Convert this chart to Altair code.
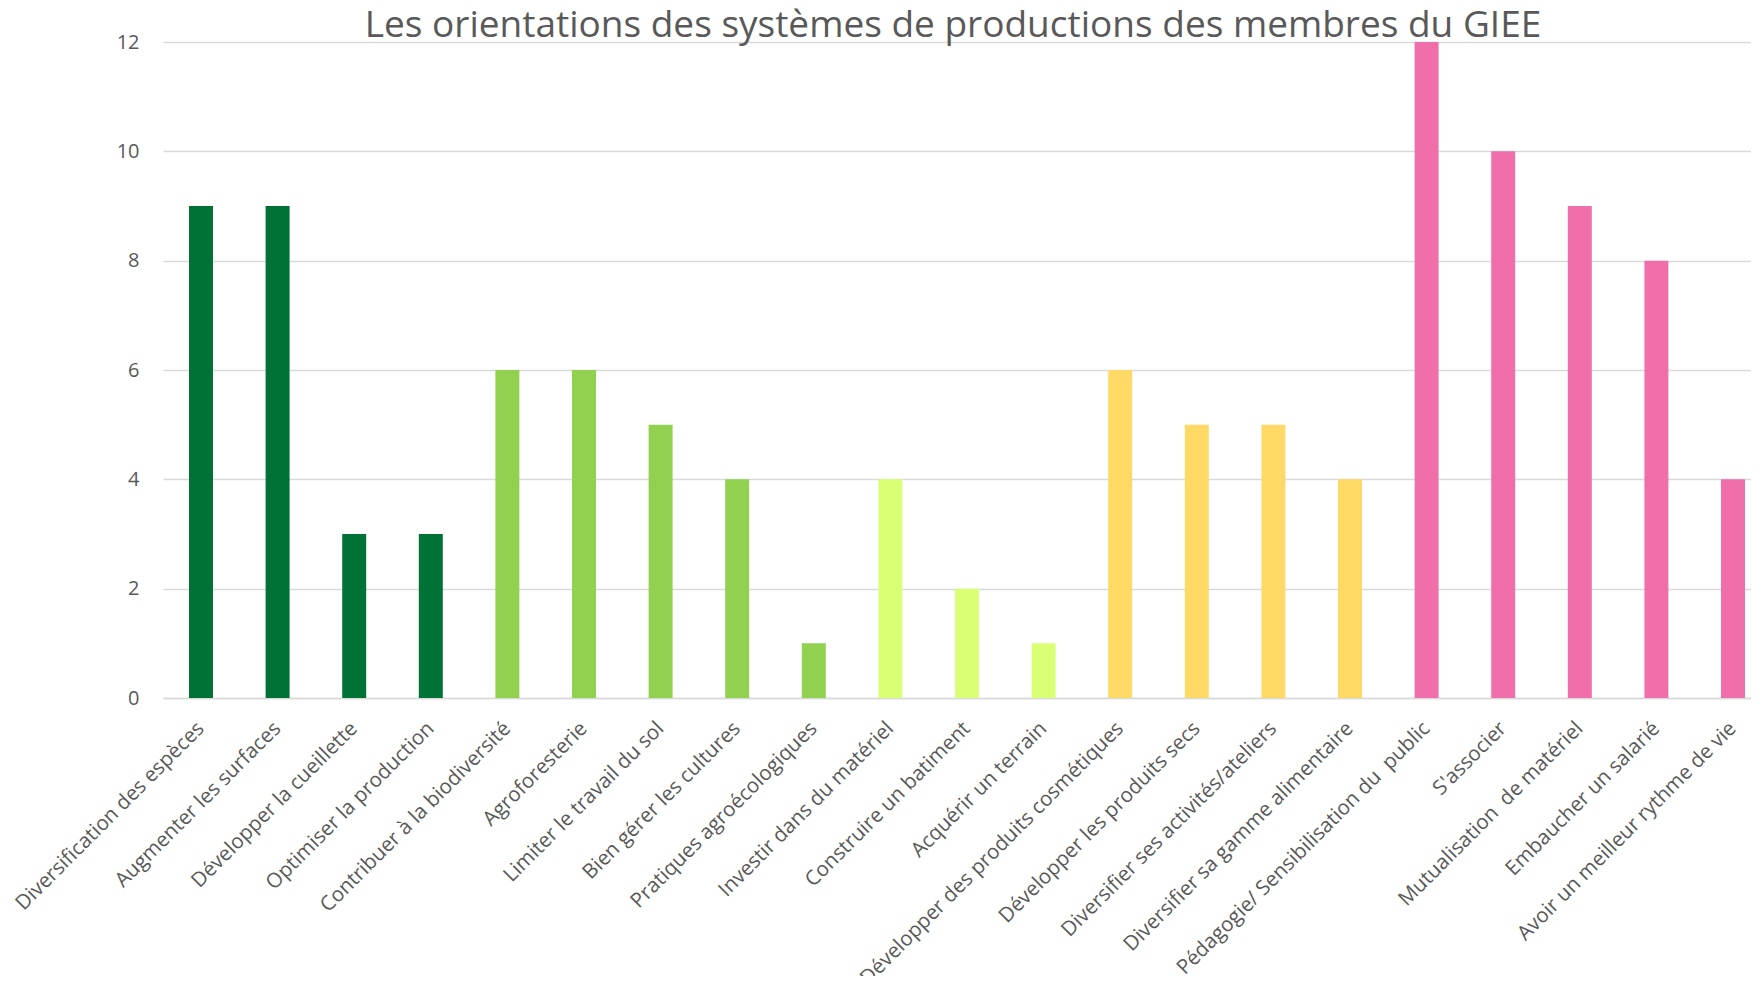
import altair as alt
import pandas as pd

title_text = "Les orientations des systèmes de productions des membres du GIEE"

categories = [
    "Diversification des espèces",
    "Augmenter les surfaces",
    "Développer la cueillette",
    "Optimiser la production",
    "Contribuer à la biodiversité",
    "Agroforesterie",
    "Limiter le travail du sol",
    "Bien gérer les cultures",
    "Pratiques agroécologiques",
    "Investir dans du matériel",
    "Construire un batiment",
    "Acquérir un terrain",
    "Développer des produits cosmétiques",
    "Développer les produits secs",
    "Diversifier ses activités/ateliers",
    "Diversifier sa gamme alimentaire",
    "Pédagogie/ Sensibilisation du\u00a0 public",
    "S'associer",
    "Mutualisation\u00a0 de matériel",
    "Embaucher un salarié",
    "Avoir un meilleur rythme de vie",
]
values = [9, 9, 3, 3, 6, 6, 5, 4, 1, 4, 2, 1, 6, 5, 5, 4, 12, 10, 9, 8, 4]
groups = (["g1"] * 4 + ["g2"] * 5 + ["g3"] * 3 + ["g4"] * 4 + ["g5"] * 5)
group_names = ["g1", "g2", "g3", "g4", "g5"]
group_colors = ["#007236", "#92D050", "#DAFF75", "#FFD966", "#F06EAA"]

df = pd.DataFrame({"cat": categories, "val": values, "grp": groups})

bars = alt.Chart(df).mark_bar().encode(
    x=alt.X("cat:N", sort=None, title=None,
            scale=alt.Scale(paddingInner=0.687, paddingOuter=0.209, align=0.8125),
            axis=alt.Axis(labelAngle=-45, labelAlign="right", labelBaseline="middle",
                          labelPadding=27, ticks=False, domainColor="#D9D9D9",
                          domainWidth=1.5, labelFontSize=20.5, labelColor="#595959",
                          labelFont="Open Sans", labelLimit=0, labelOverlap=False)),
    y=alt.Y("val:Q", title=None,
            scale=alt.Scale(domain=[0, 12], nice=False),
            axis=alt.Axis(values=[0, 2, 4, 6, 8, 10, 12], ticks=False, domain=False,
                          gridColor="#D9D9D9", gridWidth=1.3, labelPadding=24,
                          labelFontSize=20, labelColor="#595959", labelFont="Open Sans")),
    color=alt.Color("grp:N", scale=alt.Scale(domain=group_names, range=group_colors), legend=None),
)

title = alt.Chart(pd.DataFrame({"t": [title_text]})).mark_text(
    font="Open Sans", fontSize=37, color="#595959", align="center", baseline="alphabetic"
).encode(
    text="t:N",
    x=alt.value(790),
    y=alt.value(-5),
)

chart = alt.layer(bars, title).properties(
    width=1588,
    height=656,
    autosize=alt.AutoSizeParams(type="none"),
    padding={"left": 155, "top": 34, "right": 0, "bottom": 278},
).configure_view(stroke=None)

chart.save("out.html", embed_options={"renderer": "svg", "actions": False})
